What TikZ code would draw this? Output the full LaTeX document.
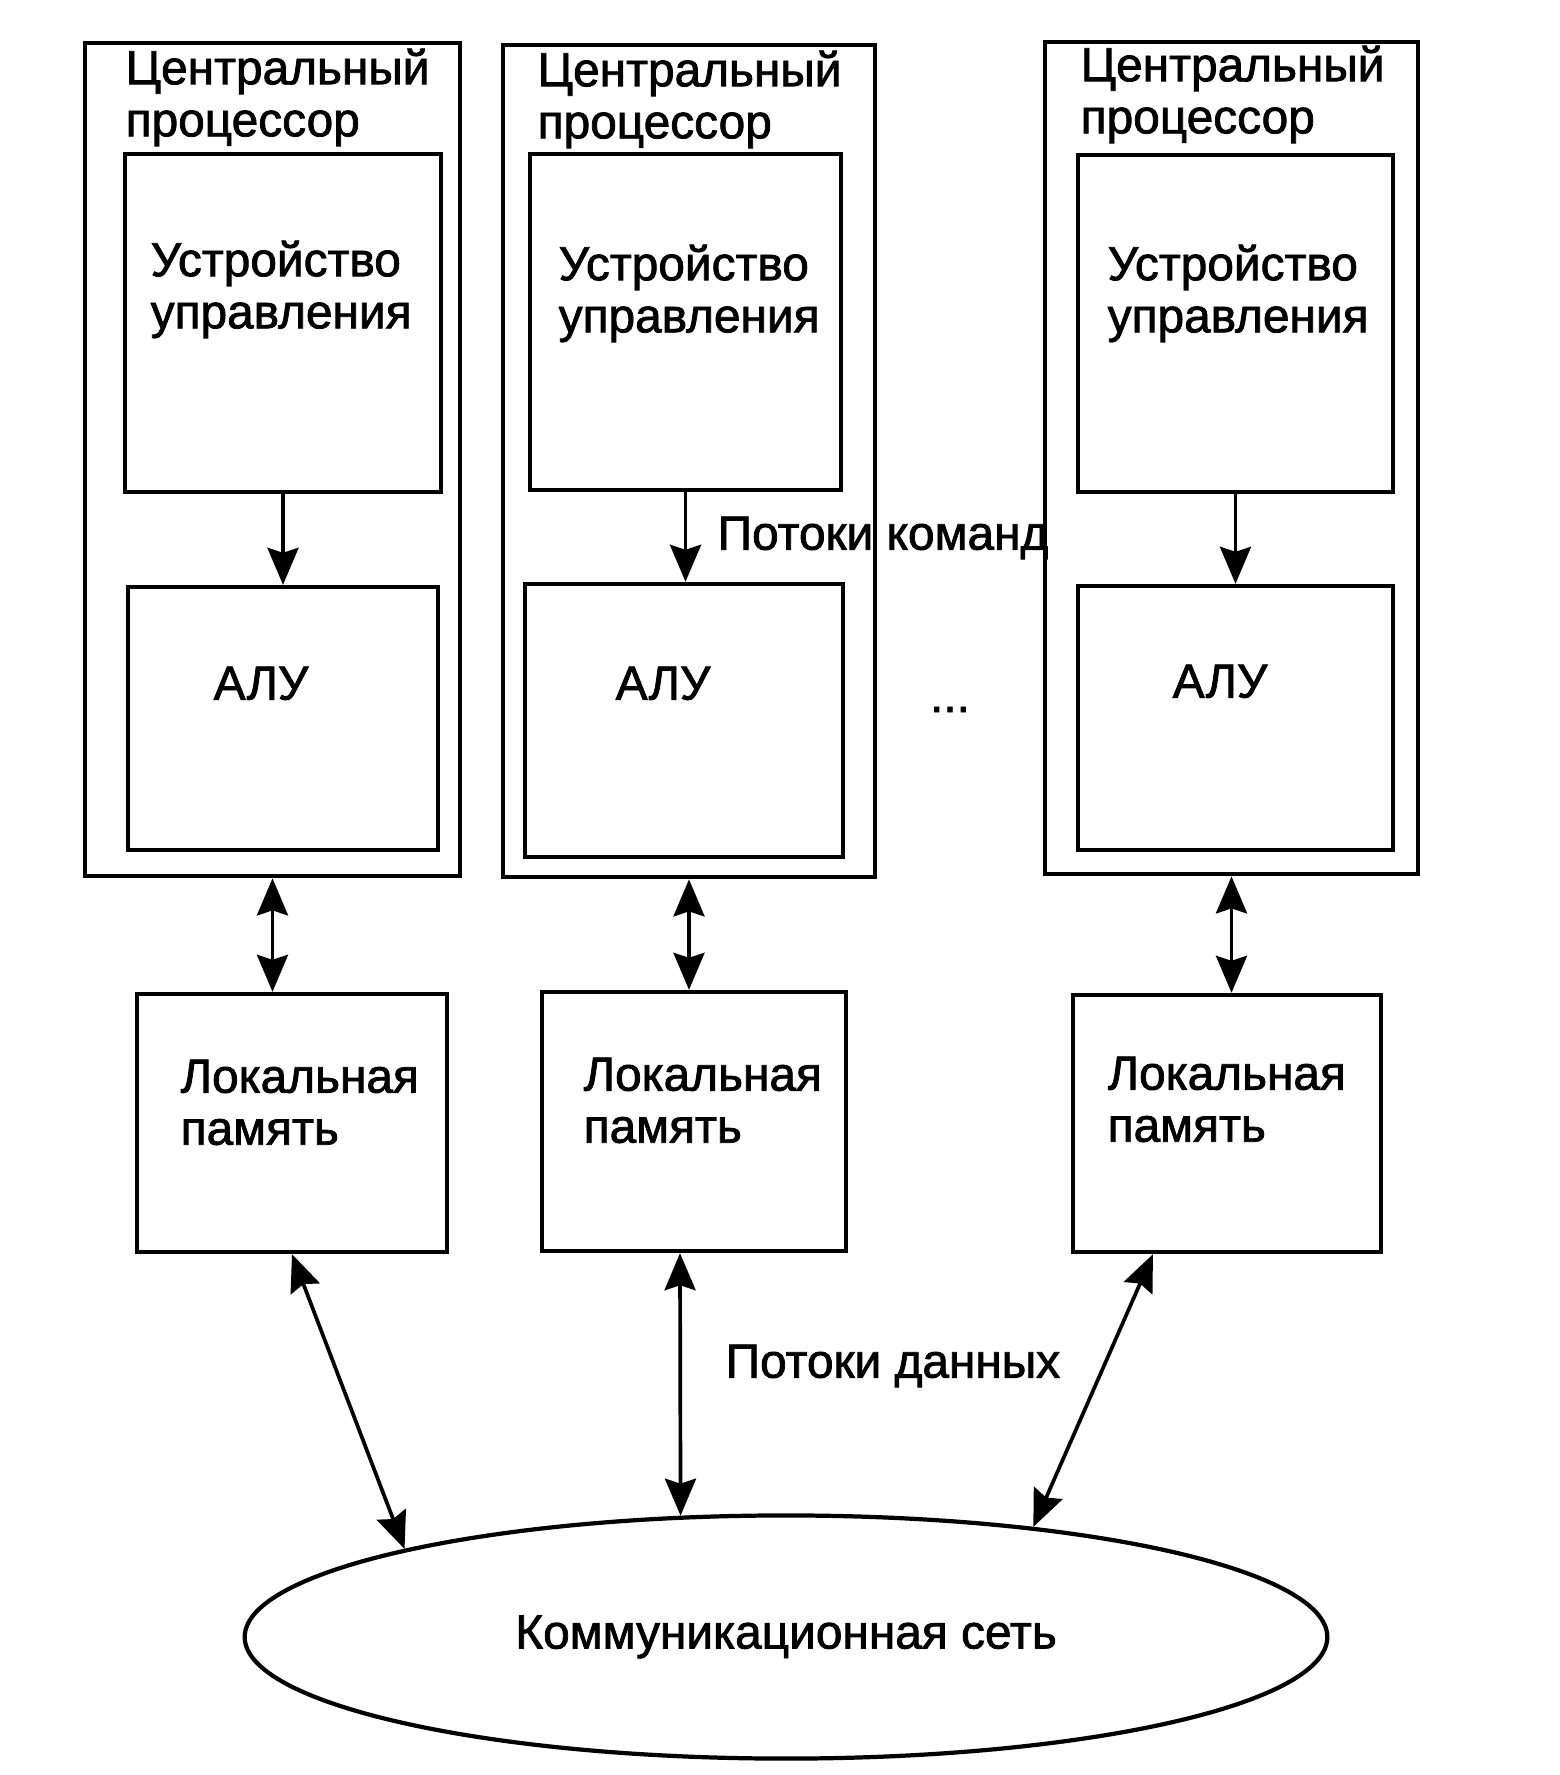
\documentclass[tikz,border=0pt]{standalone}
\usepackage{fontspec}
\setmainfont{Liberation Sans}[BoldFont={Liberation Sans}, BoldFeatures={FakeBold=1.6}]
\usepackage{tikz}
\usetikzlibrary{shapes.geometric,arrows.meta}

\begin{document}
\begin{tikzpicture}[x=0.01cm, y=-0.01cm]
	\tikzstyle{part}=[rectangle, draw=black, line width=1.2pt, inner sep=0pt]
	\tikzstyle{caption}=[anchor=north west, inner sep=0pt, align=left, font=\fontsize{13.6}{14.8}\selectfont\bfseries]
	\tikzstyle{flow}=[line width=1.05pt, -{Stealth[length=0.37cm, width=0.31cm, inset=0.05cm]}]
	\tikzstyle{both}=[line width=1.05pt, {Stealth[length=0.37cm, width=0.31cm, inset=0.05cm]}-{Stealth[length=0.37cm, width=0.31cm, inset=0.05cm]}]
	\useasboundingbox (0,0) rectangle (1559,1775);

	% processors
	\node[part, minimum width=3.75cm, minimum height=8.33cm] (cpu1) at (272.5,459.5) {};
	\node[part, minimum width=3.72cm, minimum height=8.32cm] (cpu2) at (689,461) {};
	\node[part, minimum width=3.73cm, minimum height=8.32cm] (cpu3) at (1231.5,458) {};
	\node[caption] (cpu1text) at (125,48) {Центральный\\процессор};
	\node[caption] (cpu2text) at (537,50) {Центральный\\процессор};
	\node[caption] (cpu3text) at (1080,45) {Центральный\\процессор};

	% control units
	\node[part, minimum width=3.16cm, minimum height=3.38cm] (cu1) at (283,323) {};
	\node[part, minimum width=3.11cm, minimum height=3.36cm] (cu2) at (685.5,322) {};
	\node[part, minimum width=3.15cm, minimum height=3.37cm] (cu3) at (1235.5,323.5) {};
	\node[caption] (cu1text) at (150,240) {Устройство\\управления};
	\node[caption] (cu2text) at (558,244) {Устройство\\управления};
	\node[caption] (cu3text) at (1107,244) {Устройство\\управления};

	% ALU
	\node[part, minimum width=3.10cm, minimum height=2.63cm] (alu1) at (283,718.5) {};
	\node[part, minimum width=3.18cm, minimum height=2.73cm] (alu2) at (684,720.5) {};
	\node[part, minimum width=3.15cm, minimum height=2.64cm] (alu3) at (1235.5,718) {};
	\node[caption] (alu1text) at (213,666) {АЛУ};
	\node[caption] (alu2text) at (615,666) {АЛУ};
	\node[caption] (alu3text) at (1172,664) {АЛУ};

	\node[caption, anchor=base] (dots) at (950,712) {...};
	\node[caption] (cmdflow) at (717,516) {Потоки команд};

	% local memory
	\node[part, minimum width=3.10cm, minimum height=2.58cm] (lm1) at (292,1123) {};
	\node[part, minimum width=3.04cm, minimum height=2.59cm] (lm2) at (694,1121.5) {};
	\node[part, minimum width=3.08cm, minimum height=2.57cm] (lm3) at (1227,1123.5) {};
	\node[caption] (lm1text) at (180,1059) {Локальная\\память};
	\node[caption] (lm2text) at (583,1057) {Локальная\\память};
	\node[caption] (lm3text) at (1107,1056) {Локальная\\память};

	\node[caption] (dataflow) at (725,1344) {Потоки данных};

	% network
	\node[ellipse, draw=black, line width=1.2pt, inner sep=0pt, minimum width=10.82cm, minimum height=2.43cm,
		font=\fontsize{13.6}{14.8}\selectfont\bfseries] (net) at (786,1637) {Коммуникационная сеть};

	\path[flow]
		(cu1.south) edge (cu1.south |- alu1.north)
		(cu2.south) edge (cu2.south |- alu2.north)
		(cu3.south) edge (cu3.south |- alu3.north);

	\path[both]
		(cpu1.south) edge (cpu1.south |- lm1.north)
		(cpu2.south) edge (cpu2.south |- lm2.north)
		(cpu3.south) edge (cpu3.south |- lm3.north)
		(lm1.south) edge (net.167)
		([xshift=-0.14cm]lm2.south) edge (net.131.7)
		([xshift=-0.74cm]lm3.south) edge (net.24.4);

\end{tikzpicture}
\end{document}
